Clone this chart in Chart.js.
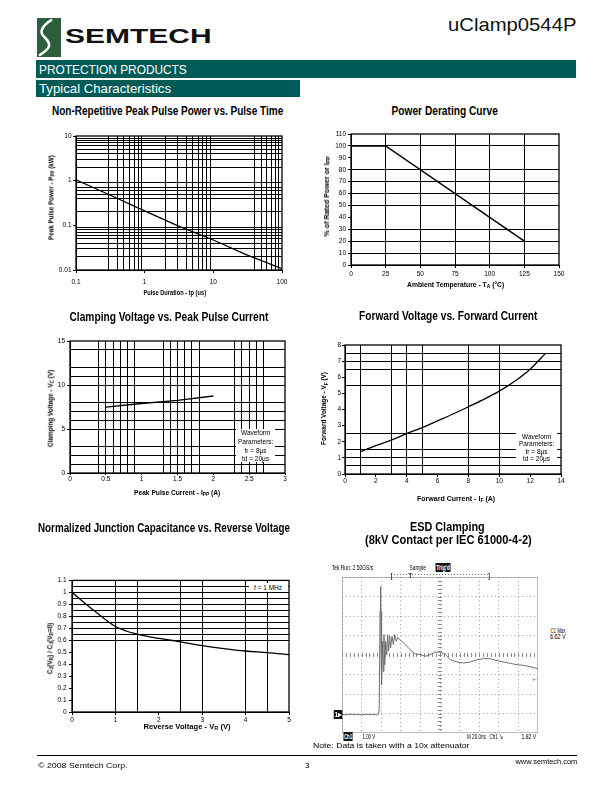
<!DOCTYPE html>
<html><head><meta charset="utf-8">
<script src="https://cdn.jsdelivr.net/npm/chart.js@4.4.1/dist/chart.umd.min.js"></script>
<style>
html,body{margin:0;padding:0;background:#fff;}
body{width:612px;height:792px;position:relative;overflow:hidden;font-family:"Liberation Sans",Arial,sans-serif;}
canvas{position:absolute;}
.t{position:absolute;white-space:nowrap;line-height:1;transform-origin:50% 50%;}
.t sub{font-size:72%;vertical-align:-0.25em;line-height:0;}
.box{position:absolute;background:#fff;}
</style></head><body>
<svg style="position:absolute;left:37px;top:18px" width="24" height="39" viewBox="0 0 24 39">
<rect width="24" height="39" fill="#2b5e3b"/>
<path d="M15 1.5 C8 6, 3 11, 5 16 C7 20, 13 22, 12 28 C11 32, 6 35, 2 37.5" stroke="#fff" stroke-width="2.6" fill="none"/>
</svg>
<script>
// ---------------- DATA ----------------
// Non-Repetitive Peak Pulse Power vs. Pulse Time
const pulseTime  = [0.1, 0.3, 1, 3, 10, 30, 100];
const pulsePower = [1.04, 0.49, 0.21, 0.099, 0.047, 0.022, 0.0107];
// Power Derating Curve
const ambientTemp = [0, 25, 125];
const ratedPct    = [100, 100, 20];
// Clamping Voltage vs. Peak Pulse Current
const peakCurrent  = [0.5, 1.0, 1.5, 2.0];
const clampVoltage = [7.48, 7.9, 8.25, 8.75];
// Forward Voltage vs. Forward Current
const fwdCurrent = [1, 2, 3, 4, 5, 6, 7, 8, 9, 10, 11, 12, 13];
const fwdVoltage = [1.38, 1.76, 2.1, 2.5, 2.88, 3.3, 3.72, 4.17, 4.63, 5.14, 5.75, 6.5, 7.48];
// Normalized Junction Capacitance vs. Reverse Voltage
const revVoltage = [0, 0.5, 1, 1.5, 2, 2.5, 3, 3.5, 4, 4.5, 5];
const capRatio   = [1.0, 0.85, 0.715, 0.65, 0.615, 0.587, 0.555, 0.53, 0.51, 0.497, 0.48];
// ESD Clamping scope trace (screen divisions: time 0..10, level 0..8)
const scopeTimeDiv  = [0,0.2,0.4,0.6,0.8,1.0,1.2,1.4,1.6,1.8,1.87,1.9,1.94,1.97,1.99,2.0,2.04,2.07,2.11,2.14,2.18,2.23,2.28,2.33,2.38,2.43,2.48,2.55,2.62,2.69,2.77,2.84,2.94,3.06,3.23,3.4,3.57,3.74,4.0,4.25,4.5,4.76,5.02,5.27,5.53,5.87,6.21,6.55,6.89,7.23,7.57,7.91,8.25,8.59,8.93,9.27,9.61,10.0];
const scopeLevelDiv = [0.95,0.93,0.96,0.94,0.95,0.93,0.96,0.94,0.95,0.93,0.97,1.28,6.24,7.52,4.36,6.24,2.48,4.7,3.16,5.04,3.5,4.7,4.02,5.04,4.19,4.96,4.36,4.96,4.53,5.04,4.7,4.9,4.79,4.7,4.53,4.36,4.19,4.05,4.02,3.93,4.02,4.15,4.15,4.02,3.76,3.64,3.59,3.64,3.76,3.81,3.81,3.71,3.64,3.57,3.5,3.47,3.4,3.3];

// ---------------- TICK LABELS / GRID VALUES ----------------
const c1XLabels = [0.1, 1, 10, 100];
const c1XGrid   = [0.3,0.4,0.5,0.6,0.7,0.8,0.9, 2,3,4,5,6,7,8,9, 40,50,60,70,80,90];
const c1YLabels = [0.01, 0.1, 1, 10];
const c1YGrid   = [0.02,0.03,0.04,0.05,0.06,0.07,0.08,0.09, 0.2,0.4,0.5,0.6,0.7,0.9, 2,3,4,5,6,7,8,9];
const c2XLabels = [0, 25, 50, 75, 100, 125, 150];
const c2XGrid   = [25, 50, 75, 100, 125];
const c2YLabels = [0, 10, 20, 30, 40, 50, 60, 70, 80, 90, 100, 110];
const c2YGrid   = [10, 20, 30, 50, 60, 70, 80, 100];
const c3XLabels = [0, 0.5, 1, 1.5, 2, 2.5, 3];
const c3XGrid   = [0.4,0.5,0.6,0.7,0.8,0.9, 1.3,1.4,1.5,1.6,1.7,1.8, 2.3,2.4,2.5,2.6,2.7];
const c3YLabels = [0, 5, 10, 15];
const c3YGrid   = [1, 2, 3, 5, 6, 7, 8, 10, 11, 12, 14];
const c4XLabels = [0, 2, 4, 6, 8, 10, 12, 14];
const c4XGrid   = [1, 3, 4, 5, 8, 10];
const c4YLabels = [0, 1, 2, 3, 4, 5, 6, 7, 8];
const c4YGrid   = [0.5, 1, 1.5, 2.5, 5.5, 6.5, 7, 7.5];
const c5XLabels = [0, 1, 2, 3, 4, 5];
const c5XGrid   = [1, 1.5, 2.5, 3, 4, 4.5];
const c5YLabels = [0, 0.1, 0.2, 0.3, 0.4, 0.5, 0.6, 0.7, 0.8, 0.9, 1, 1.1];
const c5YGrid   = [0.6, 0.65, 0.7, 0.75, 0.8, 0.85, 0.9, 0.95, 1, 1.05];

// ---------------- HELPERS ----------------
const FF = '"Liberation Sans", Arial, sans-serif';
Chart.defaults.font.family = FF;
const xy = (xs, ys) => xs.map((x, i) => ({x, y: ys[i]}));
const has = (arr, v) => arr.some(a => Math.abs(a - v) < 1e-9);
const CLEAR = 'rgba(0,0,0,0)';

function T(html, cx, cy, w, font, o = {}) {
  const d = document.createElement('div');
  d.className = 't';
  d.innerHTML = html;
  d.style.font = font;
  d.style.color = o.color || '#000';
  if (o.bg) { d.style.background = o.bg; d.style.padding = o.pad || '0 1px'; }
  document.body.appendChild(d);
  const w0 = d.offsetWidth, h0 = d.offsetHeight;
  d.style.left = (cx - w0 / 2) + 'px';
  d.style.top = (cy - h0 / 2) + 'px';
  const k = w ? w / w0 : 1;
  d.style.transform = (o.rot ? 'rotate(-90deg) ' : '') + 'scaleX(' + k + ')';
  return d;
}
function R(l, t, r, b, bg) {
  const d = document.createElement('div');
  d.className = 'box';
  Object.assign(d.style, {left: l + 'px', top: t + 'px', width: (r - l) + 'px', height: (b - t) + 'px', background: bg || '#fff'});
  document.body.appendChild(d);
  return d;
}

function axis(type, min, max, labels, grid, pad, tl) {
  const all = Array.from(new Set([...labels, ...grid])).sort((a, b) => a - b);
  return {
    type, min, max,
    afterBuildTicks: s => { s.ticks = all.map(v => ({value: v})); },
    ticks: {autoSkip: false, maxRotation: 0, minRotation: 0, padding: pad, color: '#000',
      font: {size: 6.5, family: FF},
      callback: v => has(labels, v) ? String(v) : ''},
    grid: {color: c => (c.tick && has(grid, c.tick.value)) ? '#000' : CLEAR, lineWidth: 1,
      drawTicks: true, tickLength: tl,
      tickColor: c => (c.tick && has(labels, c.tick.value)) ? '#000' : CLEAR, tickWidth: 1},
    border: {display: true, color: '#000', width: 1}
  };
}

const framePlugin = {
  id: 'frame',
  afterDatasetsDraw(chart, args, opts) {
    if (!opts || !opts.on) return;
    const a = chart.chartArea, ctx = chart.ctx;
    ctx.save();
    ctx.strokeStyle = opts.color || '#000';
    ctx.lineWidth = opts.width || 1.3;
    ctx.strokeRect(a.left, a.top, a.right - a.left, a.bottom - a.top);
    ctx.restore();
  }
};
const scopePlugin = {
  id: 'scopeTicks',
  beforeDatasetsDraw(chart, args, opts) {
    if (!opts || !opts.on) return;
    const ctx = chart.ctx, xs = chart.scales.x, ys = chart.scales.y;
    const cx = xs.getPixelForValue(5), cy = ys.getPixelForValue(4);
    ctx.save();
    ctx.strokeStyle = '#8a8a8a'; ctx.lineWidth = 1;
    ctx.beginPath();
    for (let i = 0; i <= 50; i++) { const px = Math.round(xs.getPixelForValue(i * 0.2)) + 0.5; ctx.moveTo(px, cy - 2); ctx.lineTo(px, cy + 2); }
    for (let i = 0; i <= 40; i++) { const py = Math.round(ys.getPixelForValue(i * 0.2)) + 0.5; ctx.moveTo(cx - 2, py); ctx.lineTo(cx + 2, py); }
    ctx.stroke();
    ctx.restore();
  }
};

function mkChart(b, o) {
  const W = b.R - b.L, H = b.B - b.T;
  const cw = W + b.yw + b.pr, ch = H + b.pt + b.xh;
  const cv = document.createElement('canvas');
  cv.width = cw; cv.height = ch;
  Object.assign(cv.style, {left: (b.L - b.yw) + 'px', top: (b.T - b.pt) + 'px', width: cw + 'px', height: ch + 'px'});
  document.body.appendChild(cv);
  o.x.afterFit = s => { s.height = b.xh; };
  o.y.afterFit = s => { s.width = b.yw; };
  return new Chart(cv, {
    type: 'scatter',
    data: {datasets: [{data: o.data, showLine: true, borderColor: o.lineColor || '#000', borderWidth: o.lineWidth || 1.3,
      pointRadius: 0, tension: 0, cubicInterpolationMode: o.cubic ? 'monotone' : 'default', fill: false}]},
    options: {responsive: false, animation: false, devicePixelRatio: 1, events: [],
      layout: {padding: {top: b.pt, right: b.pr, left: 0, bottom: 0}},
      plugins: {legend: {display: false}, tooltip: {enabled: false}, frame: o.frame || {on: true, width: 1.3}, scopeTicks: o.scope || {on: false}},
      scales: {x: o.x, y: o.y}},
    plugins: [framePlugin, scopePlugin]
  });
}

// ---------------- HEADER ----------------
T('SEMTECH', 138, 36, 147, '900 21px ' + FF, {color: '#111'});
T('uClamp0544P', 512, 25, 128, '19px ' + FF, {color: '#111'});
R(36, 60, 576, 77.5, '#005b56');
T('PROTECTION PRODUCTS', 113, 69, 148, '13px ' + FF, {color: '#fff'});
R(36, 80, 300, 97, '#005b56');
T('Typical Characteristics', 105, 88.5, 132, '13px ' + FF, {color: '#fff'});

const TF = 'bold 12px ' + FF;
const AF = 'bold 6.5px ' + FF;
const NF = '6.5px ' + FF;

// ---------------- CHART 1 ----------------
T('Non-Repetitive Peak Pulse Power vs. Pulse Time', 167.5, 111, 231, TF);
mkChart({L: 76, T: 136, R: 282, B: 270, yw: 40, xh: 22, pt: 6, pr: 12}, {
  x: axis('logarithmic', 0.1, 100, c1XLabels, c1XGrid, 5.5, 3),
  y: axis('logarithmic', 0.01, 10, c1YLabels, c1YGrid, 1.5, 3),
  data: xy(pulseTime, pulsePower)
});
T('Pulse Duration - tp (us)', 175, 292.3, 63, AF);
T('Peak Pulse Power - P<sub>PP</sub> (kW)', 50.7, 197.5, 85, AF, {rot: true});

// ---------------- CHART 2 ----------------
T('Power Derating Curve', 444, 111, 106, TF);
mkChart({L: 351, T: 134, R: 559, B: 265, yw: 40, xh: 22, pt: 6, pr: 12}, {
  x: axis('linear', 0, 150, c2XLabels, c2XGrid, 2, 3),
  y: axis('linear', 0, 110, c2YLabels, c2YGrid, 2, 3),
  data: xy(ambientTemp, ratedPct), lineWidth: 1.5
});
T('Ambient Temperature - T<sub>A</sub> (°C)', 455, 284.3, 97, AF);
T('% of Rated Power or I<sub>PP</sub>', 326.7, 196.7, 80, AF, {rot: true});

// ---------------- CHART 3 ----------------
T('Clamping Voltage vs. Peak Pulse Current', 169, 316.5, 199, TF);
mkChart({L: 70, T: 341, R: 285, B: 473, yw: 36, xh: 22, pt: 6, pr: 12}, {
  x: axis('linear', 0, 3, c3XLabels, c3XGrid, 0, 2),
  y: axis('linear', 0, 15, c3YLabels, c3YGrid, 2, 3),
  data: xy(peakCurrent, clampVoltage)
});
T('Peak Pulse Current - I<sub>PP</sub> (A)', 177, 492.7, 86, AF);
T('Clamping Voltage - V<sub>C</sub> (V)', 50, 408, 77, AF, {rot: true});
R(236, 429, 275, 462);
T('Waveform', 255.5, 432.7, 0, NF);
T('Parameters:', 255.5, 441, 0, NF);
T('tr = 8µs', 255.5, 450, 0, NF);
T('td = 20µs', 255.5, 458.3, 0, NF);

// ---------------- CHART 4 ----------------
T('Forward Voltage vs. Forward Current', 448, 316, 178, TF);
mkChart({L: 345, T: 345, R: 561, B: 474, yw: 36, xh: 22, pt: 6, pr: 12}, {
  x: axis('linear', 0, 14, c4XLabels, c4XGrid, 0.5, 3),
  y: axis('linear', 0, 8, c4YLabels, c4YGrid, 1, 3),
  data: xy(fwdCurrent, fwdVoltage), cubic: true
});
T('Forward Current - I<sub>F</sub> (A)', 456, 498, 78, AF);
T('Forward Voltage - V<sub>F</sub> (V)', 324, 408, 73, AF, {rot: true});
R(516, 433, 557, 463);
T('Waveform', 536.5, 436.3, 0, NF);
T('Parameters:', 536.5, 443.6, 0, NF);
T('tr = 8µs', 536.5, 451, 0, NF);
T('td = 20µs', 536.5, 458.6, 0, NF);

// ---------------- CHART 5 ----------------
T('Normalized Junction Capacitance vs. Reverse Voltage', 164, 527.7, 252, TF);
mkChart({L: 72, T: 580, R: 289, B: 712, yw: 36, xh: 22, pt: 6, pr: 12}, {
  x: axis('linear', 0, 5, c5XLabels, c5XGrid, 1, 3),
  y: axis('linear', 0, 1.1, c5YLabels, c5YGrid, 2.5, 3),
  data: xy(revVoltage, capRatio), cubic: true
});
T('Reverse Voltage - V<sub>R</sub> (V)', 186.7, 726.7, 87, AF);
T('C<sub>J</sub>(V<sub>R</sub>) / C<sub>J</sub>(V<sub>R</sub>=0)', 50, 648, 52, AF, {rot: true});
R(248.5, 582.7, 288, 591.7);
T('f = 1 MHz', 268, 587.2, 0, NF);

// ---------------- CHART 6 (scope) ----------------
T('ESD Clamping', 447.5, 526.7, 75, TF);
T('(8kV Contact per IEC 61000-4-2)', 448, 540, 167, TF);
const scopeAxis = max => ({type: 'linear', min: 0, max,
  ticks: {display: false, stepSize: 1},
  grid: {color: '#9a9a9a', lineWidth: 1, drawTicks: false},
  border: {display: false, dash: [1, 2.92]}});
mkChart({L: 342, T: 577, R: 538, B: 733, yw: 0, xh: 0, pt: 0, pr: 0}, {
  x: scopeAxis(10), y: scopeAxis(8),
  data: xy(scopeTimeDiv, scopeLevelDiv), lineColor: '#6e6e6e', lineWidth: 1,
  frame: {on: true, color: '#7a7a7a', width: 1}, scope: {on: true}
});
const SF = '7.5px ' + FF;
T('Tek Run: 2.50GS/s', 352.5, 567, 41.6, SF);
T('Sample', 417.5, 567, 16, SF);
T('Trig\'d', 442.5, 567, 15, 'bold ' + SF, {color: '#fff', bg: '#111'});
R(391, 574, 489, 575, 'repeating-linear-gradient(90deg,#777 0 1px,transparent 1px 3px)');
T('[', 391.5, 575, 0, SF);
T('T', 410.5, 575.5, 0, SF);
T(']', 489, 575, 0, SF);
T('1▸', 337.5, 714.3, 8.5, 'bold ' + SF, {color: '#fff', bg: '#111'});
T('Ch1', 347.5, 736.5, 9.5, 'bold ' + SF, {color: '#fff', bg: '#111'});
T('1.00 V', 369, 736.5, 13, SF);
T('M 20.0ns', 476, 736.5, 19, SF);
T('Ch1 ↘', 496.5, 736.5, 14, SF);
T('1.82 V', 529.2, 736.5, 15, SF);
T('C1 Max', 557.5, 630.5, 15, SF);
T('6.62 V', 558, 636.5, 16, SF);
T('←', 535, 678.3, 0, 'bold 6.5px ' + FF);
T('Note: Data is taken with a 10x attenuator', 391.5, 745.5, 157, '8px ' + FF);

// ---------------- FOOTER ----------------
R(37, 755, 577, 756, '#000');
T('© 2008 Semtech Corp.', 83, 765, 90, '8px ' + FF);
T('3', 307, 765, 0, '8px ' + FF);
T('www.semtech.com', 546, 761.5, 62, '8px ' + FF);
</script>
</body></html>
